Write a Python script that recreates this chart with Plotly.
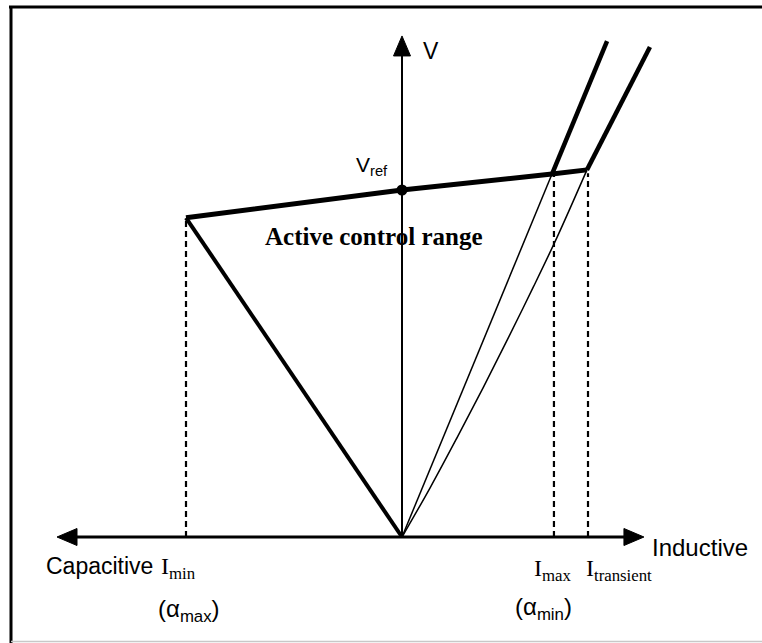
import plotly.graph_objects as go

# ---- Data: SVC V-I characteristic (I in p.u. of I_max, V in p.u. of V_ref) ----
I_min, I_ref, I_max, I_trans = -1.44, 0.0, 1.0, 1.233
V_at_Imin, V_ref, V_at_Imax, V_at_Itrans = 0.92, 1.0, 1.046, 1.058

# active control range (slope line)
slope_I = [I_min, I_ref, I_max, I_trans]
slope_V = [V_at_Imin, V_ref, V_at_Imax, V_at_Itrans]
# capacitive limit (alpha_max)
cap_I = [I_min, 0.0]
cap_V = [V_at_Imin, 0.0]
# inductive limit (alpha_min), steady state
ind1_low_I = [0.0, I_max]
ind1_low_V = [0.0, V_at_Imax]
ind1_high_I = [I_max, 1.367]
ind1_high_V = [V_at_Imax, 1.429]
# inductive limit, transient
ind2_low_I = [0.0, 0.19, 0.369, 0.543, 0.711, 0.875, 1.035, I_trans]
ind2_low_V = [0.0, 0.144, 0.288, 0.432, 0.576, 0.720, 0.865, V_at_Itrans]
ind2_high_I = [I_trans, 1.653]
ind2_high_V = [V_at_Itrans, 1.412]

# axis extents (arrow tips)
axis_left, axis_right, axis_top = -2.30, 1.613, 1.444

# ---- layout helpers ----
W, H = 762, 643
XR = [-2.68, 2.40]
YR = [-0.3055, 1.5476]
PX_X = W / (XR[1] - XR[0])   # pixels per I unit
PX_Y = H / (YR[1] - YR[0])   # pixels per V unit


def X(px):
    return XR[0] + px / PX_X


def Y(py):
    return YR[1] - py / PX_Y


fig = go.Figure()


def line(xs, ys, width, dash="solid", shape="linear"):
    fig.add_trace(go.Scatter(x=xs, y=ys, mode="lines",
                             line=dict(color="black", width=width, dash=dash, shape=shape),
                             hoverinfo="skip", showlegend=False))


def tri(pts):
    xs = [p[0] for p in pts] + [pts[0][0]]
    ys = [p[1] for p in pts] + [pts[0][1]]
    fig.add_trace(go.Scatter(x=xs, y=ys, mode="lines", fill="toself",
                             fillcolor="black", line=dict(color="black", width=1),
                             hoverinfo="skip", showlegend=False))


# axes
line([axis_left + 10 / PX_X, axis_right - 10 / PX_X], [0, 0], 3)
line([0, 0], [0, axis_top - 10 / PX_Y], 2)
L, Hh = 20, 8.5
tri([(axis_right, 0), (axis_right - L / PX_X, Hh / PX_Y), (axis_right - L / PX_X, -Hh / PX_Y)])
tri([(axis_left, 0), (axis_left + L / PX_X, Hh / PX_Y), (axis_left + L / PX_X, -Hh / PX_Y)])
tri([(0, axis_top), (-Hh / PX_X, axis_top - L / PX_Y), (Hh / PX_X, axis_top - L / PX_Y)])

# dashed projections
for xi, vi in [(I_min, V_at_Imin), (I_max + 0.013, V_at_Imax - 0.005), (I_trans + 0.007, V_at_Itrans - 0.01)]:
    line([xi, xi], [0, vi], 2.2, dash="6px,4px")

# characteristic
line(ind1_low_I, ind1_low_V, 1.5)
line(ind2_low_I, ind2_low_V, 1.5, shape="spline")
line(slope_I, slope_V, 5)
line(cap_I, cap_V, 4)
line(ind1_high_I, ind1_high_V, 4.5)
line(ind2_high_I, ind2_high_V, 4.5)

# Vref dot
fig.add_trace(go.Scatter(x=[I_ref], y=[V_ref], mode="markers",
                         marker=dict(color="black", size=11),
                         hoverinfo="skip", showlegend=False))

SANS = "Liberation Sans"
SERIF = "Liberation Serif"


def text(t, px, py, size, family=SANS, xanchor="left"):
    fig.add_annotation(x=X(px), y=Y(py), text=t, showarrow=False,
                       xanchor=xanchor, yanchor="middle",
                       font=dict(family=family, size=size, color="black"))


text("V", 421, 51, 23)
text("V<sub>ref</sub>", 372, 166, 21, xanchor="center")
text("<b>Active control range</b>", 374, 236, 25, family=SERIF, xanchor="center")
text("Capacitive", 44, 566, 23)
text("I<sub>min</sub>", 159, 568, 24, family=SERIF)
text("(α<sub>max</sub>)", 156, 610, 24)
text("Inductive", 650, 547, 24)
text("I<sub>max</sub>", 532, 570, 24, family=SERIF)
text("I<sub>transient</sub>", 584, 570, 24, family=SERIF)
text("(α<sub>min</sub>)", 513, 608, 24)

# frame
fig.add_shape(type="line", xref="paper", yref="paper",
              x0=9 / W, x1=1, y0=1 - 7 / H, y1=1 - 7 / H,
              line=dict(color="black", width=3))
fig.add_shape(type="line", xref="paper", yref="paper",
              x0=11 / W, x1=11 / W, y0=0, y1=1 - 7 / H,
              line=dict(color="black", width=3))
fig.add_shape(type="line", xref="paper", yref="paper",
              x0=11 / W, x1=1, y0=1.5 / H, y1=1.5 / H,
              line=dict(color="#c8c8c8", width=1.5))

fig.update_layout(
    width=W, height=H,
    margin=dict(l=0, r=0, t=0, b=0),
    paper_bgcolor="white", plot_bgcolor="white",
    xaxis=dict(range=XR, visible=False, fixedrange=True),
    yaxis=dict(range=YR, visible=False, fixedrange=True),
    showlegend=False,
)

fig.write_html("out.html", config={"displayModeBar": False},
               post_script="document.body.style.margin='0';document.body.style.padding='0';"
                           "document.documentElement.style.overflow='hidden';")
